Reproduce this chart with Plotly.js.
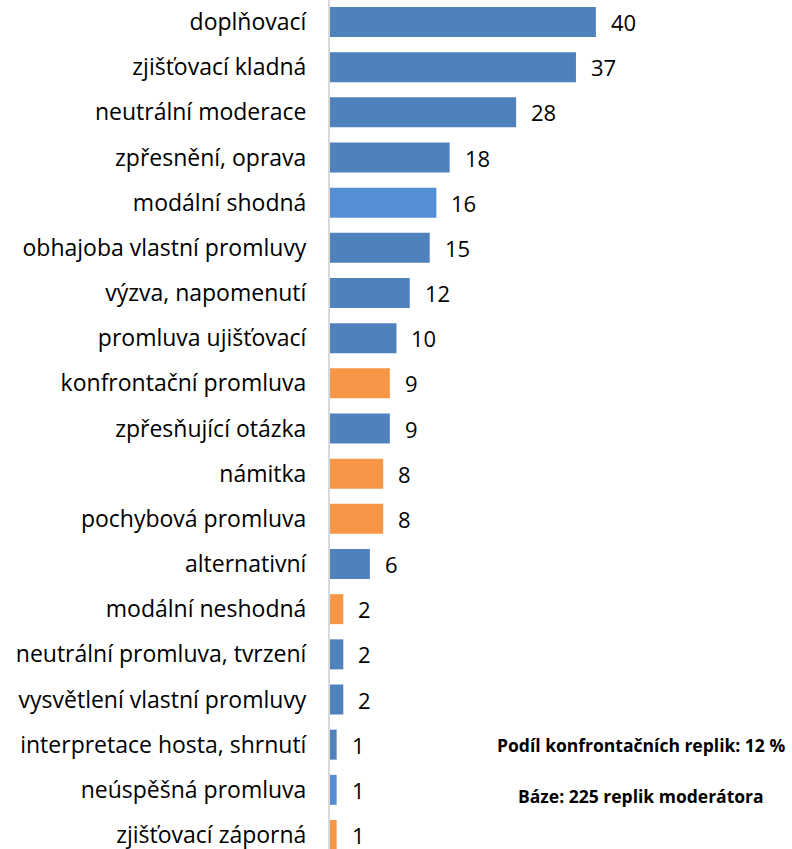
<!DOCTYPE html>
<html>
<head>
<meta charset="utf-8">
<script src="https://cdn.plot.ly/plotly-3.0.1.min.js"></script>
<style>html,body{margin:0;padding:0;background:#fff;}#chart{width:792px;height:849px;}</style>
</head>
<body>
<div id="chart"></div>
<script>
const categories = [
  "doplňovací",
  "zjišťovací kladná",
  "neutrální moderace",
  "zpřesnění, oprava",
  "modální shodná",
  "obhajoba vlastní promluvy",
  "výzva, napomenutí",
  "promluva ujišťovací",
  "konfrontační promluva",
  "zpřesňující otázka",
  "námitka",
  "pochybová promluva",
  "alternativní",
  "modální neshodná",
  "neutrální promluva, tvrzení",
  "vysvětlení vlastní promluvy",
  "interpretace hosta, shrnutí",
  "neúspěšná promluva",
  "zjišťovací záporná"
];
const values = [40, 37, 28, 18, 16, 15, 12, 10, 9, 9, 8, 8, 6, 2, 2, 2, 1, 1, 1];
const groups = ["b","b","b","b","l","b","b","b","o","b","o","o","b","o","b","b","b","l","o"];
const palette = {b: "#4F81BD", l: "#558ED5", o: "#F79646"};
const noteLines = ["Podíl konfrontačních replik: 12 %", "Báze: 225 replik moderátora"];

const FONT = "'Open Sans', 'Noto Sans', sans-serif";

const trace = {
  type: "bar",
  orientation: "h",
  x: values,
  y: categories,
  marker: {color: groups.map(g => palette[g])},
  hoverinfo: "none"
};

const annotations = categories.map((c, i) => ({
  x: values[i], y: c, xref: "x", yref: "y",
  text: String(values[i]), showarrow: false,
  xanchor: "left", yanchor: "middle", xshift: 13,
  font: {family: FONT, size: 22, color: "#000"}
}));
annotations.push({
  xref: "paper", yref: "paper", x: 0.674, y: 0.122,
  text: "<b>" + noteLines[0] + "</b>", showarrow: false,
  xanchor: "center", yanchor: "middle",
  font: {family: FONT, size: 17.5, color: "#000"}
});
annotations.push({
  xref: "paper", yref: "paper", x: 0.674, y: 0.063,
  text: "<b>" + noteLines[1] + "</b>", showarrow: false,
  xanchor: "center", yanchor: "middle",
  font: {family: FONT, size: 17.5, color: "#000"}
});

const layout = {
  width: 792, height: 849,
  margin: {l: 330, r: 0, t: 0, b: 0, pad: 0},
  paper_bgcolor: "#fff", plot_bgcolor: "#fff",
  bargap: 0.336,
  showlegend: false,
  font: {family: FONT, size: 22, color: "#000"},
  xaxis: {range: [0, 69.5], visible: false, showgrid: false, zeroline: false},
  yaxis: {
    type: "category",
    range: [18.31, -0.487],
    showline: true, linecolor: "#D9D9D9", linewidth: 2,
    ticks: "", ticklabelstandoff: 17,
    showgrid: false, zeroline: false,
    tickfont: {family: FONT, size: 23, color: "#000"}
  },
  annotations: annotations
};

Plotly.newPlot("chart", [trace], layout, {displayModeBar: false, staticPlot: true});
</script>
</body>
</html>
